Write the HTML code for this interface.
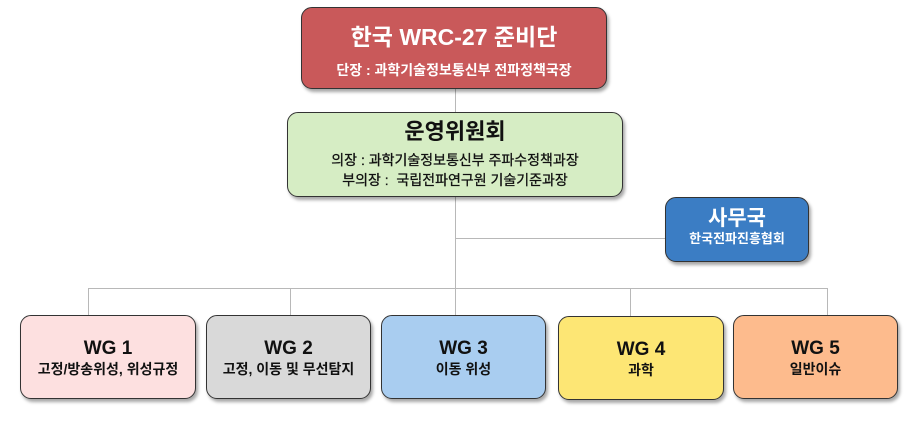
<!DOCTYPE html>
<html><head><meta charset="utf-8"><style>
body{margin:0;width:918px;height:421px;background:#fff;position:relative;overflow:hidden;font-family:"Liberation Sans","Noto Sans CJK KR",sans-serif;}
.b{position:absolute;box-sizing:border-box;border:1.5px solid #333;border-radius:11px;box-shadow:2px 3px 3px rgba(0,0,0,.35);text-align:center;font-weight:bold;}
.l{position:absolute;background:#b8b8b8;}
.t{display:block;line-height:1.2;}
</style></head><body>
<div class="l" style="left:455px;top:88px;width:1px;height:228px"></div>
<div class="l" style="left:455px;top:238px;width:211px;height:1px"></div>
<div class="l" style="left:88px;top:288px;width:740px;height:1px"></div>
<div class="l" style="left:88px;top:288px;width:1px;height:28px"></div>
<div class="l" style="left:290px;top:288px;width:1px;height:28px"></div>
<div class="l" style="left:630px;top:288px;width:1px;height:28px"></div>
<div class="l" style="left:827px;top:288px;width:1px;height:28px"></div>

<div class="b" style="left:301px;top:7px;width:306px;height:82px;background:#c9595a;color:#fff">
<span class="t" style="font-size:23px;margin-top:16px">한국 WRC-27 준비단</span>
<span class="t" style="font-size:14px;margin-top:10px">단장 : 과학기술정보통신부 전파정책국장</span></div>

<div class="b" style="left:287px;top:112px;width:336px;height:85px;background:#d6edc4;color:#111">
<span class="t" style="font-size:22px;margin-top:6px">운영위원회</span>
<span class="t" style="font-size:14px;margin-top:5px;line-height:20px;font-weight:normal;-webkit-text-stroke:.3px #111">의장 : 과학기술정보통신부 주파수정책과장</span>
<span class="t" style="font-size:14px;line-height:20px;font-weight:normal;-webkit-text-stroke:.3px #111">부의장 :&nbsp; 국립전파연구원 기술기준과장</span></div>

<div class="b" style="left:665px;top:197px;width:144px;height:65px;background:#3b7dc4;color:#fff">
<span class="t" style="font-size:21px;margin-top:8px">사무국</span>
<span class="t" style="font-size:13px;margin-top:0px">한국전파진흥협회</span></div>

<div class="b" style="left:20px;top:315px;width:176px;height:84px;background:#fde0e0;color:#111">
<span class="t" style="font-size:19px;margin-top:22px">WG 1</span><span class="t" style="font-size:14px">고정/방송위성, 위성규정</span></div>
<div class="b" style="left:206px;top:315px;width:165px;height:84px;background:#d9d9d9;color:#111">
<span class="t" style="font-size:19px;margin-top:22px">WG 2</span><span class="t" style="font-size:14px">고정, 이동 및 무선탐지</span></div>
<div class="b" style="left:381px;top:315px;width:165px;height:84px;background:#a9cdf0;color:#111">
<span class="t" style="font-size:19px;margin-top:22px">WG 3</span><span class="t" style="font-size:14px">이동 위성</span></div>
<div class="b" style="left:558px;top:316px;width:166px;height:84px;background:#fde674;color:#111">
<span class="t" style="font-size:19px;margin-top:22px">WG 4</span><span class="t" style="font-size:14px">과학</span></div>
<div class="b" style="left:733px;top:315px;width:165px;height:84px;background:#fdbb8d;color:#111">
<span class="t" style="font-size:19px;margin-top:22px">WG 5</span><span class="t" style="font-size:14px">일반이슈</span></div>
</body></html>
